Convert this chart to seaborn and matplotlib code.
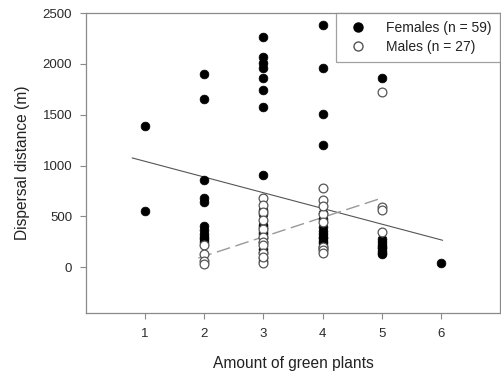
import numpy as np
import pandas as pd
import matplotlib
matplotlib.use("Agg")
import matplotlib.pyplot as plt
import seaborn as sns
from matplotlib.lines import Line2D

# Dispersal distances (m) by amount of green plants
female_1 = [1390, 550]
female_2 = [1900, 1650, 860, 680, 640, 410, 370, 330, 300, 280, 250]
female_3 = [2260, 2070, 2010, 1960, 1860, 1740, 1580, 910, 560, 520,
            420, 330, 290, 250, 180, 90, 60, 400, 350, 150]
female_4 = [2380, 1960, 1505, 1200, 530, 470, 400, 360, 330, 290,
            260, 240, 210, 190, 180, 300]
female_5 = [1860, 280, 250, 220, 190, 160, 140, 130, 200]
female_6 = [40]

male_2 = [220, 130, 60, 30]
male_3 = [680, 610, 540, 460, 380, 300, 250, 215, 140, 40, 100]
male_4 = [780, 660, 520, 440, 600, 200, 165, 140]
male_5 = [1720, 590, 560, 350]

# Linear fits (start/end of each regression line)
fit_female_x = [0.78, 6.03]
fit_female_y = [1075, 265]
fit_male_x = [1.9, 5.0]
fit_male_y = [90, 680]

female_label = "Females (n = 59)"
male_label = "Males (n = 27)"

rows = []
for x, vals in zip([1, 2, 3, 4, 5, 6],
                   [female_1, female_2, female_3, female_4, female_5, female_6]):
    rows += [(x, v, "F") for v in vals]
for x, vals in zip([2, 3, 4, 5], [male_2, male_3, male_4, male_5]):
    rows += [(x, v, "M") for v in vals]
df = pd.DataFrame(rows, columns=["plants", "distance", "sex"])

sns.set_style("white")
plt.rcParams["font.family"] = ["Liberation Sans", "DejaVu Sans"]

fig = plt.figure(figsize=(5.01, 3.77), dpi=100)
ax = fig.add_axes([0.1717, 0.1698, 0.8263, 0.7957])

grey = "#8a8a8a"
sns.scatterplot(data=df[df.sex == "F"], x="plants", y="distance", ax=ax,
                s=40, color="black", edgecolor="black", linewidth=0.5,
                zorder=3, legend=False)
sns.scatterplot(data=df[df.sex == "M"], x="plants", y="distance", ax=ax,
                s=40, facecolor="white", edgecolor="#555555", linewidth=0.9,
                zorder=4, legend=False)

sns.lineplot(x=fit_female_x, y=fit_female_y, ax=ax, color="#555555",
             linewidth=0.8, zorder=2)
sns.lineplot(x=fit_male_x, y=fit_male_y, ax=ax, color="#999999",
             linewidth=1.0, zorder=2).lines[-1].set_dashes([10, 4])

ax.set_xlim(0, 7)
ax.set_ylim(-450, 2500)
ax.set_xticks([1, 2, 3, 4, 5, 6])
ax.set_yticks([0, 500, 1000, 1500, 2000, 2500])
ax.tick_params(axis="both", direction="out", length=4, width=0.8,
               color=grey, labelsize=9.5, labelcolor="#2a2a2a", pad=6)
ax.tick_params(axis="x", pad=7)
ax.tick_params(left=True, bottom=True)
for sp in ax.spines.values():
    sp.set_color(grey)
    sp.set_linewidth(0.9)

ax.set_xlabel("Amount of green plants", fontsize=11.2, labelpad=11,
              color="#222222")
ax.set_ylabel("Dispersal distance (m)", fontsize=11.2, labelpad=9,
              color="#222222")

handles = [
    Line2D([], [], linestyle="none", marker="o", markersize=6.5,
           markerfacecolor="black", markeredgecolor="black", label=female_label),
    Line2D([], [], linestyle="none", marker="o", markersize=6.5,
           markerfacecolor="white", markeredgecolor="#555555", label=male_label),
]
leg = ax.legend(handles=handles, loc="upper right", fontsize=10,
                frameon=True, fancybox=False, borderaxespad=0,
                handlelength=2.0, handletextpad=1.0, borderpad=0.6,
                labelspacing=0.3)
leg.get_frame().set_edgecolor(grey)
leg.get_frame().set_linewidth(0.9)
for t in leg.get_texts():
    t.set_color("#222222")

fig.savefig("out.png", dpi=100)
